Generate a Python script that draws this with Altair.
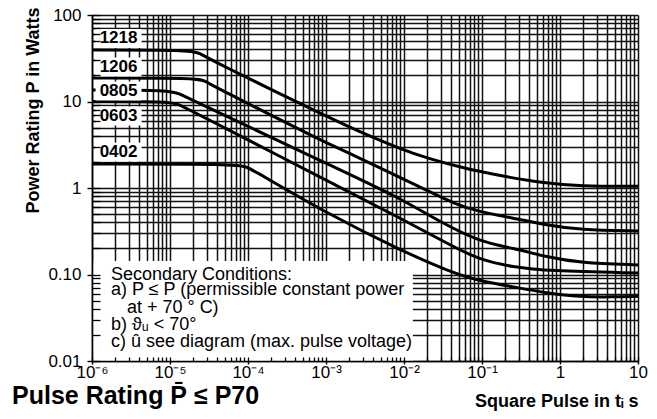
import json
import altair as alt
import pandas as pd

FONT = "Liberation Sans"
W, H = 546, 346

# ---- data ----
series_names = ["1218", "1206", "0805", "0603", "0402"]

t_1218 = [1e-6, 1.8e-5, 2.4e-5, 3.3e-5, 1.12e-3, 2.73e-3, 9.7e-3, 0.0197, 0.057, 0.156, 0.605, 1.8, 10]
p_1218 = [39.4, 39.4, 36.4, 30.2, 6.44, 4.44, 2.75, 2.22, 1.70, 1.41, 1.14, 1.05, 1.05]

t_1206 = [1e-6, 2.2e-5, 2.8e-5, 3.8e-5, 1.12e-3, 1.65e-3, 0.0215, 0.045, 0.094, 0.25, 0.68, 1.8, 10]
p_1206 = [18.7, 18.7, 17.3, 14.7, 3.14, 2.75, 0.90, 0.653, 0.528, 0.45, 0.373, 0.327, 0.318]

t_0805 = [1e-6, 1.0e-5, 1.34e-5, 1.8e-5, 1.12e-3, 8.9e-3, 0.029, 0.094, 0.25, 0.68, 1.8, 10]
p_0805 = [13.6, 13.6, 12.2, 10.7, 1.84, 0.766, 0.405, 0.238, 0.202, 0.159, 0.136, 0.129]

t_0603 = [1e-6, 9.4e-6, 1.27e-5, 1.8e-5, 1.12e-3, 8.9e-3, 0.039, 0.094, 0.25, 0.68, 10]
p_0603 = [10, 10, 9.35, 7.98, 1.17, 0.45, 0.219, 0.147, 0.122, 0.110, 0.104]

t_0402 = [1e-6, 7.2e-5, 9.7e-5, 1.34e-4, 1.12e-3, 8.9e-3, 0.039, 0.094, 0.25, 0.68, 1.8, 4.8, 10]
p_0402 = [1.89, 1.89, 1.75, 1.49, 0.488, 0.192, 0.107, 0.084, 0.072, 0.061, 0.055, 0.055, 0.056]

label_t = [2.19e-6, 2.19e-6, 2.19e-6, 2.19e-6, 2.19e-6]
label_p = [53.5, 25.1, 13.2, 6.8, 2.6]

note_lines = [
    "Secondary Conditions:",
    "a) P \u2264 P (permissible constant power",
    "at + 70 \u00b0 C)",
    "b) \u03d1\u1d64 < 70\u00b0",
    "c) \u00fb see diagram (max. pulse voltage)",
]
note_t = [1.75e-6, 1.75e-6, 2.8e-6, 1.75e-6, 1.75e-6]
note_p = [0.0863, 0.058, 0.0359, 0.0228, 0.0145]

box_t = [1e-6]
box_t2 = [0.013]
box_p = [0.01]
box_p2 = [0.143]

x_major = [1e-6, 1e-5, 1e-4, 1e-3, 1e-2, 1e-1, 1, 10]
x_labels = ["10\u207b\u2076", "10\u207b\u2075", "10\u207b\u2074", "10\u207b\u00b3",
            "10\u207b\u00b2", "10\u207b\u00b9", "1", "10"]
y_major = [0.01, 0.1, 1, 10, 100]
y_labels = ["0.01", "0.10", "1", "10", "100"]

title_text = "Pulse Rating P\u0304 \u2264 P70"
x_title = "Square Pulse in t\u1d62 s"
y_title = "Power Rating P in Watts"

# ---- tables ----
rows = []
for name, ts, ps in zip(series_names, [t_1218, t_1206, t_0805, t_0603, t_0402],
                        [p_1218, p_1206, p_0805, p_0603, p_0402]):
    for i, (t, p) in enumerate(zip(ts, ps)):
        rows.append({"series": name, "t": t, "p": p, "i": i})
curves = pd.DataFrame(rows)
labels = pd.DataFrame({"series": series_names, "t": label_t, "p": label_p})
notes = pd.DataFrame({"txt": note_lines, "t": note_t, "p": note_p})
box = pd.DataFrame({"t": box_t, "t2": box_t2, "p": box_p, "p2": box_p2})
ttl = pd.DataFrame({"txt": [title_text]})

x_all = sorted([m * d for d in x_major[:-1] for m in range(1, 10)] + [x_major[-1]])
y_all = sorted([m * d for d in y_major[:-1] for m in range(1, 10)] + [y_major[-1]])

xs = alt.Scale(type="log", domain=[x_major[0], x_major[-1]])
ys = alt.Scale(type="log", domain=[y_major[0], y_major[-1]])

grid_style = dict(grid=True, gridColor="#111111", gridWidth=1.5, gridOpacity=1,
                  ticks=False, labels=False, domain=False, title=None, zindex=0)
gx = alt.Axis(values=x_all, orient="bottom", **grid_style)
gy = alt.Axis(values=y_all, orient="left", **grid_style)

x_expr = json.dumps(x_labels) + "[round(log(datum.value)/LN10)+6]"
y_expr = json.dumps(y_labels) + "[round(log(datum.value)/LN10)+2]"

major_x = alt.Axis(values=x_major, orient="bottom", grid=False, ticks=True, tickSize=3,
                   tickColor="black", tickWidth=1.4, domain=True, domainColor="black",
                   domainWidth=1.6, labelExpr=x_expr, labelFont=FONT, labelFontSize=17,
                   labelColor="black", labelPadding=0, labelFlush=False, labelOverlap=False,
                   title=x_title, titleFont=FONT, titleFontSize=18, titleFontWeight="bold",
                   titleColor="black", titleX=W, titleY=45, titleAlign="right",
                   titleBaseline="alphabetic", zindex=1)
major_y = alt.Axis(values=y_major, orient="left", grid=False, ticks=True, tickSize=5,
                   tickColor="black", tickWidth=1.4, domain=True, domainColor="black",
                   domainWidth=1.6, labelExpr=y_expr, labelFont=FONT, labelFontSize=17,
                   labelColor="black", labelPadding=6, labelFlush=False, labelOverlap=False,
                   title=y_title, titleFont=FONT, titleFontSize=18, titleFontWeight="bold",
                   titleColor="black", titleX=-59, titleY=95, titleAngle=270,
                   titleAlign="center", titleBaseline="middle", zindex=1)

inner_x = alt.Axis(values=x_all, orient="top", offset=-H, grid=False, ticks=True, tickSize=4,
                   tickColor="black", tickWidth=1.3, labels=False, domain=False, title=None,
                   zindex=1)
inner_y = alt.Axis(values=y_all, orient="right", offset=-W, grid=False, ticks=True, tickSize=8,
                   tickColor="black", tickWidth=1.3, labels=False, domain=False, title=None,
                   zindex=1)

box_layer = alt.Chart(box).mark_rect(color="white", opacity=1).encode(
    x=alt.X("t:Q", scale=xs, axis=gx), x2="t2:Q",
    y=alt.Y("p:Q", scale=ys, axis=gy), y2="p2:Q")

line_layer = alt.Chart(curves).mark_line(color="black", strokeWidth=3,
                                         interpolate="basis").encode(
    x=alt.X("t:Q", scale=xs, axis=major_x),
    y=alt.Y("p:Q", scale=ys, axis=major_y),
    detail="series:N", order="i:Q")

lab_box = alt.Chart(labels).mark_point(
    shape="M-1,-0.413L1,-0.413L1,0.413L-1,0.413Z", size=2116, filled=True,
    color="white", opacity=1, strokeWidth=0).encode(
    x=alt.X("t:Q", scale=xs, axis=None), y=alt.Y("p:Q", scale=ys, axis=None))

lab_text = alt.Chart(labels).mark_text(font=FONT, fontSize=17, fontWeight="bold",
                                       color="black", align="center",
                                       baseline="middle").encode(
    x=alt.X("t:Q", scale=xs, axis=None), y=alt.Y("p:Q", scale=ys, axis=None),
    text="series:N")

note_layer = alt.Chart(notes).mark_text(font=FONT, fontSize=18, color="black",
                                        align="left", baseline="alphabetic").encode(
    x=alt.X("t:Q", scale=xs, axis=inner_x), y=alt.Y("p:Q", scale=ys, axis=inner_y),
    text="txt:N")

title_layer = alt.Chart(ttl).mark_text(font=FONT, fontSize=25, fontWeight="bold",
                                       color="black", align="left",
                                       baseline="alphabetic").encode(
    x=alt.value(-80), y=alt.value(389), text="txt:N")

chart = alt.layer(box_layer, line_layer, lab_box, lab_text, note_layer, title_layer).resolve_axis(
    x="independent", y="independent"
).properties(
    width=W, height=H,
    autosize=alt.AutoSizeParams(type="none"),
    padding={"left": 84, "top": 7, "right": 11, "bottom": 50},
    background="white",
).configure_view(stroke=None)

chart.save("out.html", embed_options={"renderer": "svg", "actions": False})
